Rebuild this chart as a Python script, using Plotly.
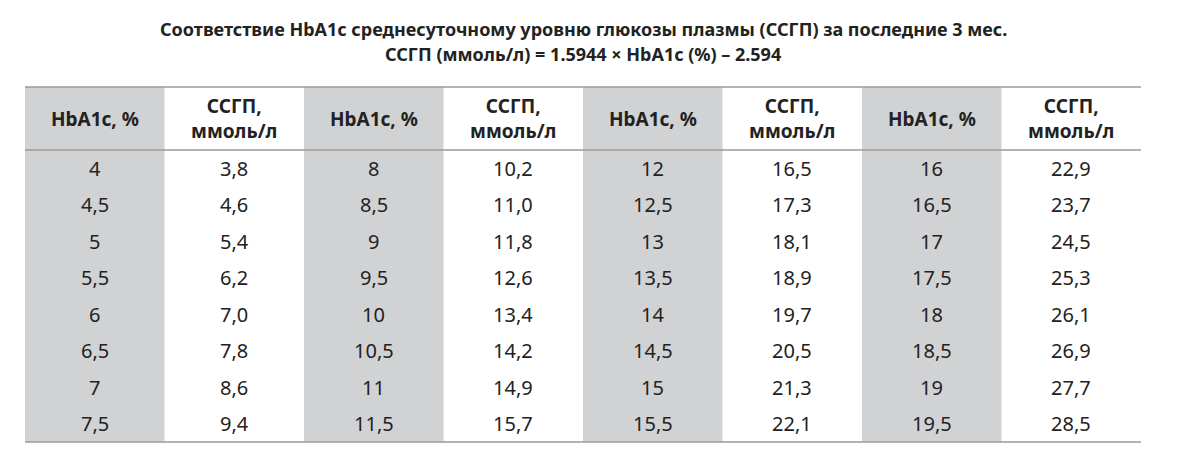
import plotly.graph_objects as go

title_lines = ["Соответствие HbA1c среднесуточному уровню глюкозы плазмы (ССГП) за последние 3 мес.",
               "ССГП (ммоль/л) = 1.5944 × HbA1c (%) – 2.594"]
headers = ["HbA1c, %", "ССГП,<br>ммоль/л"] * 4
hba1c = ["4","4,5","5","5,5","6","6,5","7","7,5","8","8,5","9","9,5","10","10,5","11","11,5",
         "12","12,5","13","13,5","14","14,5","15","15,5","16","16,5","17","17,5","18","18,5","19","19,5"]
ssgp = ["3,8","4,6","5,4","6,2","7,0","7,8","8,6","9,4","10,2","11,0","11,8","12,6","13,4","14,2","14,9","15,7",
        "16,5","17,3","18,1","18,9","19,7","20,5","21,3","22,1","22,9","23,7","24,5","25,3","26,1","26,9","27,7","28,5"]

x0, x1 = 17, 1133
top, hb, bot = 79, 142, 434
cw = (x1 - x0) / 8
rh = (bot - hb) / 8
FONT = "Noto Sans"
gray = "#d1d2d4"

fig = go.Figure()
shapes, ann = [], []
for g in range(4):
    shapes.append(dict(type="rect", x0=x0 + 2*g*cw, x1=x0 + (2*g+1)*cw, y0=top, y1=bot,
                       fillcolor=gray, line_width=0, layer="below"))
for y in (top, hb, bot):
    shapes.append(dict(type="line", x0=x0, x1=x1, y0=y, y1=y, line=dict(color="#9a9a9a", width=1.5)))
shapes.append(dict(type="rect", x0=933, x1=1127, y0=464, y1=470, fillcolor="black", line_width=0))

for i, t in enumerate(title_lines):
    ann.append(dict(x=575, y=21 + i*25, text="<b>" + t + "</b>", showarrow=False,
                    font=dict(family=FONT, size=18, color="#222")))
for c, h in enumerate(headers):
    ann.append(dict(x=x0 + (c+0.5)*cw, y=(top+hb)/2, text="<b>" + h + "</b>", showarrow=False,
                    font=dict(family=FONT, size=19, color="#222")))
for g in range(4):
    for r in range(8):
        k = g*8 + r
        yy = hb + (r+0.5)*rh
        ann.append(dict(x=x0 + (2*g+0.5)*cw, y=yy, text=hba1c[k], showarrow=False,
                        font=dict(family=FONT, size=20, color="#222")))
        ann.append(dict(x=x0 + (2*g+1.5)*cw, y=yy, text=ssgp[k], showarrow=False,
                        font=dict(family=FONT, size=20, color="#222")))
ann.append(dict(x=1148, y=460, text="<b>15</b>", showarrow=False, xanchor="left", yanchor="top",
                font=dict(family=FONT, size=18, color="#222")))

fig.update_layout(width=1200, height=470, margin=dict(l=0, r=0, t=0, b=0),
                  plot_bgcolor="white", paper_bgcolor="white", shapes=shapes, annotations=ann,
                  xaxis=dict(range=[0, 1200], visible=False, fixedrange=True),
                  yaxis=dict(range=[470, 0], visible=False, fixedrange=True), showlegend=False)
fig.write_html("out.html")
